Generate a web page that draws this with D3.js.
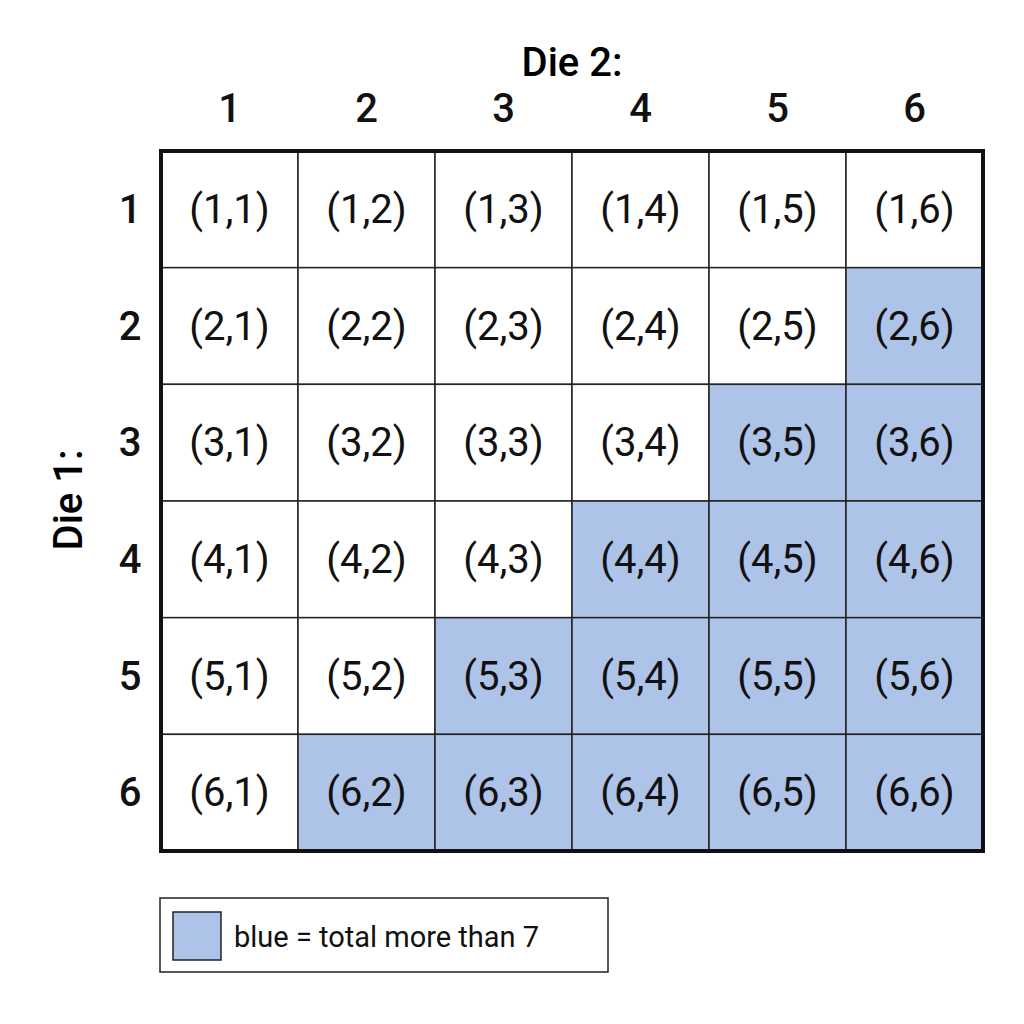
<!DOCTYPE html>
<html><head><meta charset="utf-8">
<script src="https://cdn.jsdelivr.net/npm/d3@7"></script>
<style>body{margin:0;background:#fff}</style>
</head><body><svg id="c" width="1024" height="1024"></svg>
<script>
const die1 = [1,2,3,4,5,6];
const die2 = [1,2,3,4,5,6];
const threshold = 7;
const legendText = "blue = total more than 7";
const blue = "#aec3e8";
const font = "Roboto, 'Noto Sans', sans-serif";

const svg = d3.select("#c");
const x = d3.scaleBand().domain(die2).range([161, 983]);
const y = d3.scaleBand().domain(die1).range([151, 851]);
const cells = [];
die1.forEach(a => die2.forEach(b => cells.push({a, b})));

const g = svg.append("g");
g.selectAll("rect.cell").data(cells).join("rect")
  .attr("x", d => x(d.b)).attr("y", d => y(d.a))
  .attr("width", x.bandwidth()).attr("height", y.bandwidth())
  .attr("fill", d => d.a + d.b > threshold ? blue : "#fff")
  .attr("stroke", "#222").attr("stroke-width", 1.5);
g.selectAll("text.cell").data(cells).join("text")
  .attr("x", d => x(d.b) + x.bandwidth()/2).attr("y", d => y(d.a) + y.bandwidth()/2)
  .attr("text-anchor", "middle").attr("dominant-baseline", "central")
  .attr("font-family", font).attr("font-size", 40).attr("fill", "#111")
  .text(d => `(${d.a},${d.b})`);
svg.append("rect").attr("x", 161).attr("y", 151).attr("width", 822).attr("height", 700)
  .attr("fill", "none").attr("stroke", "#111").attr("stroke-width", 4);

svg.selectAll("text.top").data(die2).join("text")
  .attr("x", d => x(d) + x.bandwidth()/2).attr("y", 122)
  .attr("text-anchor", "middle").attr("font-family", font).attr("font-size", 40)
  .attr("font-weight", 500).attr("fill", "#111").text(d => d);
svg.selectAll("text.left").data(die1).join("text")
  .attr("x", 130).attr("y", d => y(d) + y.bandwidth()/2)
  .attr("text-anchor", "middle").attr("dominant-baseline", "central")
  .attr("font-family", font).attr("font-size", 40).attr("font-weight", 500)
  .attr("fill", "#111").text(d => d);
svg.append("text").attr("x", 572).attr("y", 76).attr("text-anchor", "middle")
  .attr("font-family", font).attr("font-size", 40).attr("font-weight", 500).text("Die 2:");
svg.append("text").attr("transform", "translate(82,500) rotate(-90)").attr("text-anchor", "middle")
  .attr("font-family", font).attr("font-size", 40).attr("font-weight", 500).text("Die 1:");

svg.append("rect").attr("x", 160).attr("y", 898).attr("width", 448).attr("height", 74)
  .attr("fill", "#fff").attr("stroke", "#222").attr("stroke-width", 1.5);
svg.append("rect").attr("x", 173).attr("y", 912).attr("width", 48).attr("height", 48)
  .attr("fill", blue).attr("stroke", "#222").attr("stroke-width", 1.5);
svg.append("text").attr("x", 234).attr("y", 937).attr("dominant-baseline", "central")
  .attr("font-family", font).attr("font-size", 29).attr("fill", "#111").text(legendText);
</script></body></html>
